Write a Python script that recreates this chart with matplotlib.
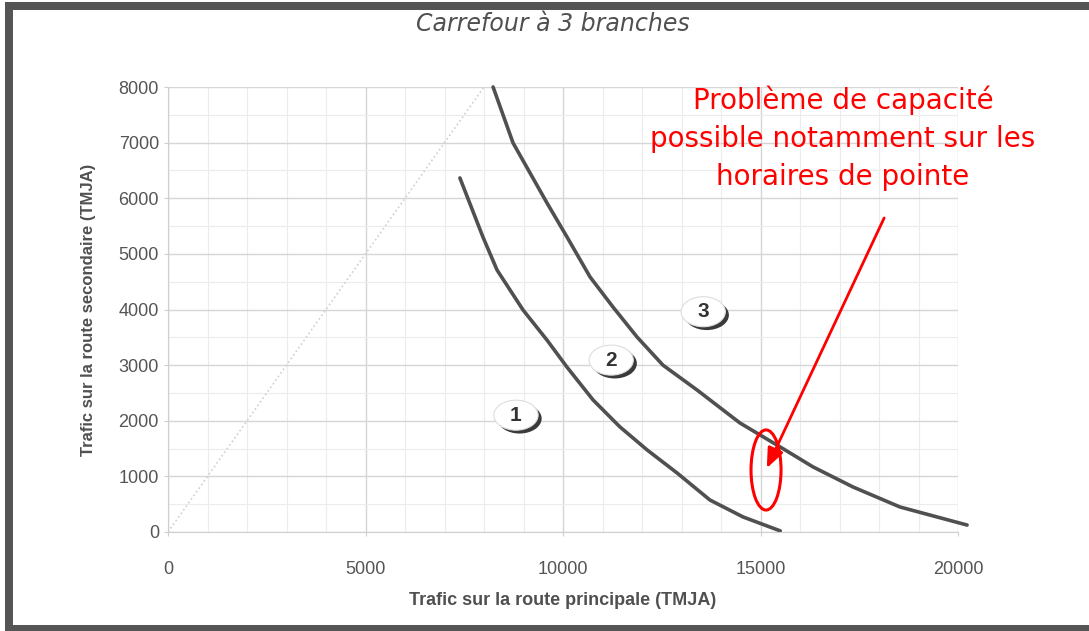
import matplotlib

matplotlib.use("Agg")
import matplotlib.pyplot as plt
from matplotlib.patches import Ellipse, Rectangle
from matplotlib.ticker import MultipleLocator

# Limit curves (TMJA)
curve_low_x = [7390, 7975, 8330, 8990, 9595, 10100, 10760, 11440, 12130, 12890, 13720, 14560, 15500]
curve_low_y = [6365, 5300, 4710, 3990, 3450, 2965, 2375, 1890, 1475, 1060, 575, 270, 20]

curve_high_x = [8230, 8735, 9165, 9595, 10100, 10685, 11265, 11875, 12530, 13390, 14480, 15495,
                16330, 17340, 18530, 20230]
curve_high_y = [8000, 6995, 6455, 5915, 5305, 4585, 4045, 3505, 3000, 2555, 1960, 1530,
                1170, 810, 450, 125]

diag_x = [0, 8000]
diag_y = [0, 8000]

zone_labels = ["1", "2", "3"]
zone_x = [8810, 11220, 13550]
zone_y = [2100, 3090, 3960]

note_text = "Problème de capacité\npossible notamment sur les\nhoraires de pointe"
circle_xy = (15140, 1115)
arrow_from = (18130, 5645)
arrow_to = (15160, 1150)

fig = plt.figure(figsize=(10.89, 6.31), dpi=100)
ax = fig.add_axes([168 / 1089, 99 / 631, 790 / 1089, 445 / 631])

ax.set_xlim(0, 20000)
ax.set_ylim(0, 8000)
ax.xaxis.set_major_locator(MultipleLocator(5000))
ax.xaxis.set_minor_locator(MultipleLocator(1000))
ax.yaxis.set_major_locator(MultipleLocator(1000))
ax.yaxis.set_minor_locator(MultipleLocator(500))
ax.grid(which="major", color="#d6d6d6", linewidth=1.0)
ax.grid(which="minor", color="#ececec", linewidth=0.8)
ax.set_axisbelow(True)
for s in ("top", "right"):
    ax.spines[s].set_visible(False)
for s in ("left", "bottom"):
    ax.spines[s].set_color("#cfcfcf")
ax.tick_params(which="both", colors="#cfcfcf", length=3, labelcolor="#555555")
ax.tick_params(which="minor", length=0)
ax.tick_params(axis="x", pad=18)
for lab in ax.get_xticklabels() + ax.get_yticklabels():
    lab.set_family(["Liberation Sans", "DejaVu Sans"])
    lab.set_fontsize(13)

ax.plot(diag_x, diag_y, color="#d0d0d0", linestyle=":", linewidth=1.2)
ax.plot(curve_low_x, curve_low_y, color="#505050", linewidth=2.6, solid_capstyle="round")
ax.plot(curve_high_x, curve_high_y, color="#505050", linewidth=2.6, solid_capstyle="round",
        clip_on=False)

# zone bubbles with a shadow on the lower right
for lab, x, y in zip(zone_labels, zone_x, zone_y):
    ax.add_patch(Ellipse((x + 90, y - 60), 1120, 540, facecolor="#3a3a3a", edgecolor="none", zorder=3))
    ax.add_patch(Ellipse((x, y), 1120, 540, facecolor="white", edgecolor="#dddddd",
                         linewidth=0.8, zorder=4))
    ax.text(x, y, lab, ha="center", va="center", fontsize=15, fontweight="bold",
            color="#333333", family=["Liberation Sans", "DejaVu Sans"], zorder=5)

ax.add_patch(Ellipse(circle_xy, 760, 1440, facecolor="none", edgecolor="red", linewidth=2.2, zorder=6))
ax.annotate("", xy=arrow_to, xytext=arrow_from,
            arrowprops=dict(arrowstyle="-|>,head_length=1.2,head_width=0.5", color="red",
                            linewidth=2, shrinkA=0, shrinkB=0), zorder=7)

fig.text(843 / 1089, 1 - 138 / 631, note_text, ha="center", va="center", color="red",
         fontsize=20, linespacing=1.45, family="DejaVu Sans")

fig.text(553 / 1089, 1 - 24 / 631, "Carrefour à 3 branches", ha="center", va="center",
         fontsize=17, style="italic", color="#505050")
ax.set_xlabel("Trafic sur la route principale (TMJA)", fontsize=13, fontweight="bold",
              color="#505050", family=["Liberation Sans", "DejaVu Sans"], labelpad=10)
ax.set_ylabel("Trafic sur la route secondaire (TMJA)", fontsize=12, fontweight="bold",
              color="#505050", family=["Liberation Sans", "DejaVu Sans"], labelpad=16)

# dark frame on the left, top and bottom of the picture
frame = "#555555"
fig.add_artist(Rectangle((5 / 1089, 0), 8 / 1089, 629 / 631, transform=fig.transFigure,
                         facecolor=frame, edgecolor="none"))
fig.add_artist(Rectangle((5 / 1089, 621 / 631), 1, 8 / 631, transform=fig.transFigure,
                         facecolor=frame, edgecolor="none"))
fig.add_artist(Rectangle((5 / 1089, 0), 1, 6 / 631, transform=fig.transFigure,
                         facecolor=frame, edgecolor="none"))

fig.savefig("out.png", dpi=100)
